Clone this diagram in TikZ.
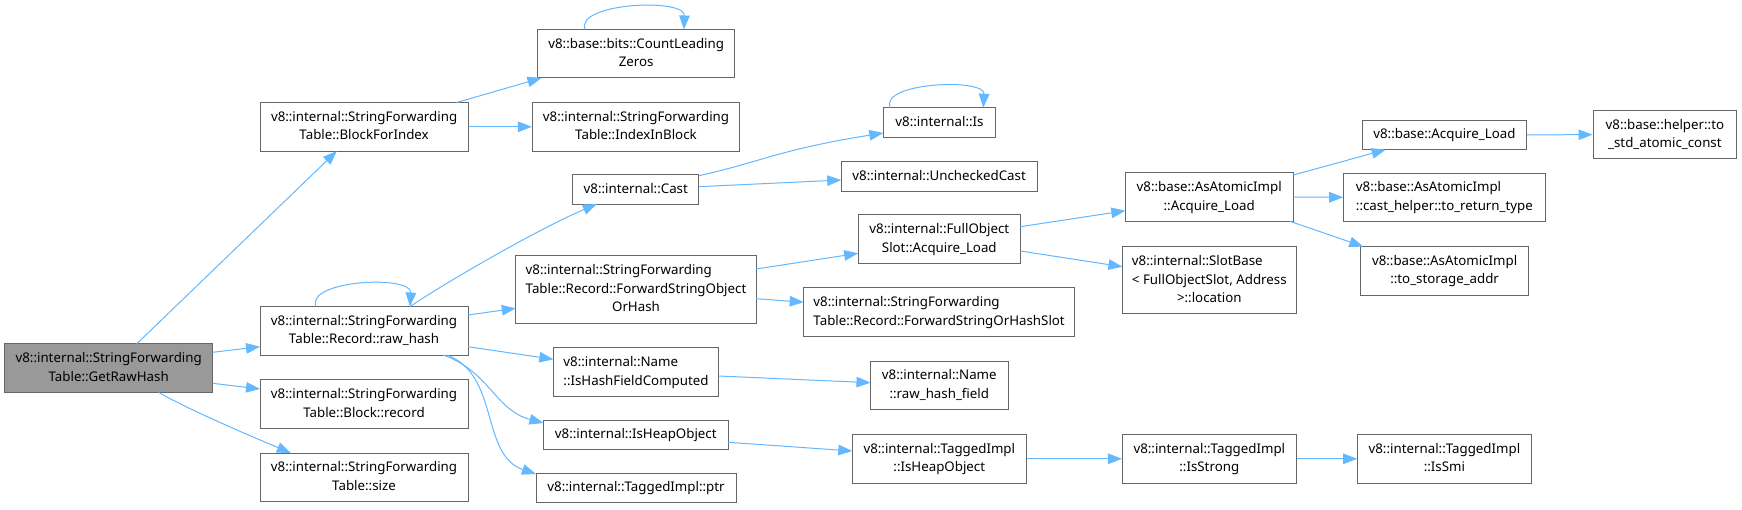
\documentclass[tikz,border=0pt]{standalone}
\usepackage{fontspec}
\setmainfont{Noto Sans}
\usetikzlibrary{arrows.meta,calc}
\definecolor{edgec}{HTML}{63B8FF}
\definecolor{borderc}{HTML}{666666}
\definecolor{rootfill}{HTML}{999999}
\newcommand{\onel}[1]{\begin{tabular}{@{}c@{}}#1\end{tabular}}
\newcommand{\twol}[2]{\begin{tabular}{@{}l@{}}#1\\\multicolumn{1}{@{}c@{}}{#2}\end{tabular}}
\newcommand{\threel}[3]{\begin{tabular}{@{}l@{}}#1\\#2\\\multicolumn{1}{@{}c@{}}{#3}\end{tabular}}
\tikzset{
  box/.style={draw=borderc, line width=1pt, fill=white, inner sep=0pt, text=black, minimum height=48.5pt},
  onebox/.style={box, minimum height=29.5pt},
  threebox/.style={box, minimum height=67.3pt},
  rootbox/.style={box, fill=rootfill},
  edge/.style={draw=edgec, line width=1pt, -{Triangle[length=14pt,width=10.5pt,fill=edgec]}},
}
\begin{document}
\begin{tikzpicture}[x=1pt,y=-1pt,font=\fontsize{13.3pt}{18.7pt}\selectfont]
\fill[white] (0,0) rectangle (1742,509);
\useasboundingbox (0,0) rectangle (1742,509);

% column 0
\node[rootbox, minimum width=208pt] (root) at (108.7,368.2) {\twol{v8::internal::StringForwarding}{Table::GetRawHash}};
% column 1
\node[box, minimum width=208pt] (bfi) at (364.1,126.8) {\twol{v8::internal::StringForwarding}{Table::BlockForIndex}};
\node[box, minimum width=208pt] (rh) at (364,330.8) {\twol{v8::internal::StringForwarding}{Table::Record::raw\_hash}};
\node[box, minimum width=208pt] (brec) at (364,404) {\twol{v8::internal::StringForwarding}{Table::Block::record}};
\node[box, minimum width=208pt] (size) at (364,477.3) {\twol{v8::internal::StringForwarding}{Table::size}};
% column 2
\node[box, minimum width=197.3pt] (clz) at (636.2,53.7) {\twol{v8::base::bits::CountLeading}{Zeros}};
\node[box, minimum width=207.2pt] (iib) at (636,126.8) {\twol{v8::internal::StringForwarding}{Table::IndexInBlock}};
\node[onebox, minimum width=126.1pt] (cast) at (635.8,189.3) {\onel{v8::internal::Cast}};
\node[threebox, minimum width=240.4pt] (fso) at (636,289.5) {\threel{v8::internal::StringForwarding}{Table::Record::ForwardStringObject}{OrHash}};
\node[box, minimum width=165.3pt] (ihfc) at (636,372.2) {\twol{v8::internal::Name}{::IsHashFieldComputed}};
\node[onebox, minimum width=184.7pt] (iho) at (635.8,435) {\onel{v8::internal::IsHeapObject}};
\node[onebox, minimum width=200pt] (ptr) at (636,488) {\onel{v8::internal::TaggedImpl::ptr}};
% column 3
\node[onebox, minimum width=112.4pt] (is) at (939.5,122.5) {\onel{v8::internal::Is}};
\node[onebox, minimum width=195.8pt] (uc) at (939.1,176.3) {\onel{v8::internal::UncheckedCast}};
\node[box, minimum width=162.3pt] (fos) at (939.3,239) {\twol{v8::internal::FullObject}{Slot::Acquire\_Load}};
\node[box, minimum width=270.8pt] (fsohs) at (939.1,312.2) {\twol{v8::internal::StringForwarding}{Table::Record::ForwardStringOrHashSlot}};
\node[box, minimum width=137.6pt] (rhf) at (939.3,385.3) {\twol{v8::internal::Name}{::raw\_hash\_field}};
\node[box, minimum width=174pt] (tiho) at (939.3,458.8) {\twol{v8::internal::TaggedImpl}{::IsHeapObject}};
% column 4
\node[box, minimum width=167.7pt] (aal) at (1209.2,197.1) {\twol{v8::base::AsAtomicImpl}{::Acquire\_Load}};
\node[threebox, minimum width=173.7pt] (sb) at (1209.3,280.3) {\threel{v8::internal::SlotBase}{< FullObjectSlot, Address}{>::location}};
\node[box, minimum width=173.7pt] (iss) at (1209.3,458.8) {\twol{v8::internal::TaggedImpl}{::IsStrong}};
% column 5
\node[onebox, minimum width=164.6pt] (bal) at (1444.4,134.8) {\onel{v8::base::Acquire\_Load}};
\node[box, minimum width=201.4pt] (ch) at (1444.4,197.3) {\twol{v8::base::AsAtomicImpl}{::cast\_helper::to\_return\_type}};
\node[box, minimum width=167.4pt] (tsa) at (1444.6,270.8) {\twol{v8::base::AsAtomicImpl}{::to\_storage\_addr}};
\node[box, minimum width=173.6pt] (smi) at (1444.4,458.8) {\twol{v8::internal::TaggedImpl}{::IsSmi}};
% column 6
\node[box, minimum width=143.8pt] (hlp) at (1664.9,134.7) {\twol{v8::base::helper::to}{\_std\_atomic\_const}};

% edges
\draw[edge] ($(root)+(27.9,-24.25)$) -- ($(bfi)+(-27.3,24.25)$);
\draw[edge] ($(root)+(104,-15.9)$) -- ($(rh)+(-104,15.9)$);
\draw[edge] ($(root)+(104,15.1)$) -- ($(brec)+(-104,-15)$);
\draw[edge] ($(root)+(50.1,24.25)$) .. controls ($(root)+(81,42)$) and ($(size)+(-115,-42)$) .. ($(size)+(-73.1,-24.25)$);
\draw[edge] ($(bfi)+(92.5,-24.25)$) -- ($(clz)+(-94.7,24.25)$);
\draw[edge] (bfi.east) -- (iib.west);
\draw[edge] ($(clz)+(-51.2,-24.25)$) .. controls ($(clz)+(-61,-51)$) and ($(clz)+(49,-56)$) .. ($(clz)+(47.7,-24.25)$);
\draw[edge] ($(rh)+(-48,-24.25)$) .. controls ($(rh)+(-58,-51)$) and ($(rh)+(48,-56)$) .. ($(rh)+(46,-24.25)$);
\draw[edge] ($(rh)+(46,-24.25)$) .. controls ($(rh)+(86,-51)$) and ($(cast)+(-96,39)$) .. ($(cast)+(-39,14.75)$);
\draw[edge] ($(rh)+(104,-15.8)$) -- ($(fso)+(-120.2,18.8)$);
\draw[edge] ($(rh)+(104,15.9)$) -- ($(ihfc)+(-82.65,-12.9)$);
\draw[edge] ($(rh)+(79.3,24.25)$) .. controls ($(rh)+(126,41)$) and ($(iho)+(-141,-25)$) .. ($(iho)+(-92.35,-12)$);
\draw[edge] ($(rh)+(83,24.25)$) .. controls ($(rh)+(136,44)$) and ($(ptr)+(-156,-33)$) .. ($(ptr)+(-100,-14)$);
\draw[edge] ($(cast)+(63.05,-13.6)$) .. controls ($(cast)+(124,-27)$) and ($(is)+(-160,27)$) .. ($(is)+(-56.2,10.5)$);
\draw[edge] ($(cast)+(63.05,-2.6)$) -- ($(uc)+(-97.9,3.7)$);
\draw[edge] ($(is)+(-49.5,-14.75)$) .. controls ($(is)+(-59.5,-40.5)$) and ($(is)+(45.5,-44.5)$) .. ($(is)+(43.8,-14.75)$);
\draw[edge] ($(fso)+(120.2,-20.5)$) -- ($(fos)+(-81.15,14.3)$);
\draw[edge] ($(fso)+(120.2,9.2)$) -- ($(fsohs)+(-135.4,-10)$);
\draw[edge] ($(fos)+(81.15,-12.3)$) -- ($(aal)+(-83.85,13.6)$);
\draw[edge] ($(fos)+(81.15,12)$) -- ($(sb)+(-86.85,-13.6)$);
\draw[edge] ($(ihfc)+(82.65,3.8)$) -- ($(rhf)+(-68.8,-2.6)$);
\draw[edge] ($(iho)+(92.35,7.3)$) -- ($(tiho)+(-87,-7.8)$);
\draw[edge] (tiho.east) -- (iss.west);
\draw[edge] (iss.east) -- (smi.west);
\draw[edge] ($(aal)+(84.1,-22.1)$) -- ($(bal)+(-58.7,14.85)$);
\draw[edge] (aal.east) -- (ch.west);
\draw[edge] ($(aal)+(80.8,24.25)$) -- ($(tsa)+(-81.3,-24.25)$);
\draw[edge] (bal.east) -- (hlp.west);
\end{tikzpicture}
\end{document}
